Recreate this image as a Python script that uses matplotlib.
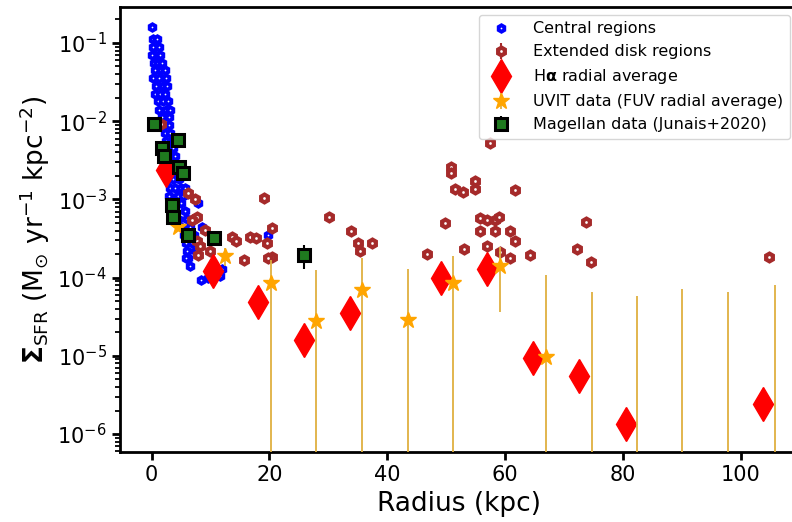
import matplotlib
matplotlib.use("Agg")
import matplotlib.pyplot as plt
import numpy as np

# ---------------- data ----------------
# Central regions (radius kpc, Sigma_SFR)
central_r = [0.1,
             0.2, 0.9,
             0.3, 1.2,
             0.5, 1.4, 0.1,
             0.4, 1.1, 1.8,
             0.6, 1.6, 2.2,
             0.3, 1.2, 2.4,
             0.8, 1.9, 2.6,
             0.5, 1.5, 2.3,
             1.0, 2.0, 2.8,
             1.3, 2.5, 3.2,
             1.8, 2.9,
             2.0, 3.0,
             2.2, 3.2,
             2.4, 3.5,
             2.6, 3.7,
             2.8, 3.5, 4.0,
             2.7, 3.8,
             3.0, 4.2,
             2.8, 3.6, 4.6,
             3.2, 4.0, 5.0, 5.6,
             3.0, 4.4, 5.3,
             3.5, 5.0, 7.8,
             4.0, 5.6,
             4.5, 6.0, 7.0,
             5.0, 6.5, 8.5,
             5.5, 7.2,
             5.8, 6.8,
             6.0, 7.5,
             6.2, 5.8,
             6.5,
             11.6, 10.2, 11.9,
             8.3, 9.5,
             19.7]
central_sfr = [1.58e-1,
               1.12e-1, 1.12e-1,
               8.9e-2, 8.9e-2,
               7.1e-2, 7.1e-2, 7.1e-2,
               5.6e-2, 5.6e-2, 5.6e-2,
               4.5e-2, 4.5e-2, 4.5e-2,
               3.55e-2, 3.55e-2, 3.55e-2,
               2.8e-2, 2.8e-2, 2.8e-2,
               2.2e-2, 2.2e-2, 2.2e-2,
               1.8e-2, 1.8e-2, 1.8e-2,
               1.4e-2, 1.4e-2, 1.4e-2,
               1.12e-2, 1.12e-2,
               8.9e-3, 8.9e-3,
               7.1e-3, 7.1e-3,
               5.6e-3, 5.6e-3,
               4.5e-3, 4.5e-3,
               3.55e-3, 3.55e-3, 3.55e-3,
               2.8e-3, 2.8e-3,
               2.2e-3, 2.2e-3,
               1.8e-3, 1.8e-3, 1.8e-3,
               1.4e-3, 1.4e-3, 1.4e-3, 1.4e-3,
               1.12e-3, 1.12e-3, 1.12e-3,
               8.9e-4, 8.9e-4, 8.9e-4,
               7.1e-4, 7.1e-4,
               5.6e-4, 5.6e-4, 5.6e-4,
               4.5e-4, 4.5e-4, 4.5e-4,
               3.5e-4, 3.5e-4,
               2.8e-4, 2.8e-4,
               2.2e-4, 2.2e-4,
               1.8e-4, 1.8e-4,
               1.4e-4,
               1.05e-4, 1.1e-4, 1.3e-4,
               9.3e-5, 9.8e-5,
               3.5e-4]

# Extended disk regions
ext_r = [1.6, 6.2, 7.4, 7.7, 6.8, 9.1, 7.7, 8.2, 9.9, 7.9,
         13.6, 14.4, 16.7, 17.8, 15.6, 19.1, 20.4, 19.5, 20.4, 19.8,
         30.1, 33.9, 35.1, 35.4, 37.4, 46.7, 49.8, 50.8, 50.8, 51.5,
         52.8, 54.9, 54.9, 53.0, 55.8, 56.9, 58.3, 55.8, 58.3, 56.9,
         61.7, 58.9, 60.8, 61.7, 59.2, 60.8, 64.2, 73.8, 72.2, 74.5,
         104.8, 57.5]
ext_sfr = [9.3e-3, 1.2e-3, 1.02e-3, 6.0e-4, 5.5e-4, 4.1e-4, 2.9e-4, 2.5e-4, 2.2e-4, 1.95e-4,
           3.3e-4, 2.9e-4, 3.3e-4, 3.2e-4, 1.7e-4, 1.05e-3, 4.3e-4, 2.75e-4, 1.85e-4, 1.8e-4,
           6.0e-4, 4.0e-4, 2.75e-4, 2.2e-4, 2.75e-4, 2.0e-4, 5.0e-4, 2.6e-3, 2.2e-3, 1.35e-3,
           1.23e-3, 1.74e-3, 1.35e-3, 2.3e-4, 5.75e-4, 5.5e-4, 5.5e-4, 4.0e-4, 3.9e-4, 2.5e-4,
           1.3e-3, 6.0e-4, 4.0e-4, 2.9e-4, 2.1e-4, 1.8e-4, 1.95e-4, 5.1e-4, 2.3e-4, 1.6e-4,
           1.85e-4, 5.2e-3]
ext_err = [0.0] * len(ext_r)

# H-alpha radial average
ha_r = [2.4, 10.5, 18.1, 25.9, 33.7, 49.1, 56.9, 64.7, 72.6, 80.5, 103.8]
ha_sfr = [2.4e-3, 1.2e-4, 4.9e-5, 1.6e-5, 3.5e-5, 9.8e-5, 1.3e-4, 9.3e-6, 5.5e-6, 1.35e-6, 2.4e-6]

# UVIT FUV radial average (value, symmetric error)
uvit_r = [4.5, 12.5, 20.2, 27.9, 35.7, 43.5, 51.2, 59.2, 67.0, 74.7, 82.4, 90.1, 97.9, 105.8]
uvit_sfr = [4.5e-4, 1.9e-4, 8.5e-5, 2.75e-5, 6.9e-5, 2.9e-5, 8.5e-5, 1.4e-4, 9.8e-6,
            1.0e-7, 1.0e-7, 1.0e-7, 1.0e-7, 1.0e-7]
uvit_err = [0.3e-4, 0.5e-4, 8.5e-5, 9.85e-5, 1.11e-4, 1.01e-4, 1.05e-4, 1.04e-4, 9.7e-5,
            6.6e-5, 5.8e-5, 7.1e-5, 6.5e-5, 8.0e-5]

# Magellan data (Junais+2020)
mag_r = [0.46, 4.5, 1.7, 2.1, 4.7, 5.3, 3.4, 3.7, 6.2, 10.6, 25.9]
mag_sfr = [9.3e-3, 5.8e-3, 4.5e-3, 3.6e-3, 2.6e-3, 2.2e-3, 8.5e-4, 6.0e-4, 3.5e-4, 3.2e-4, 1.95e-4]
mag_err = [0, 0, 0, 0, 0, 0, 0, 0, 0, 0, 6.5e-5]

x_ticks = [0, 20, 40, 60, 80, 100]

# ---------------- plot ----------------
fig = plt.figure(figsize=(7.92, 5.22), dpi=100)
ax = fig.add_axes([0.1515, 0.1341, 0.856, 0.8525])

h1, = ax.plot(central_r, central_sfr, linestyle='none', marker='h', ms=4.6, mfc='white',
              mec='blue', mew=2.8, label='Central regions', zorder=2)
h2 = ax.errorbar(ext_r, ext_sfr, yerr=ext_err, fmt='h', ms=5.6, mfc='white', mec='#a52a2a',
                 mew=3.0, ecolor='#a52a2a', elinewidth=1.5, label='Extended disk regions', zorder=3)
h3, = ax.plot(ha_r, ha_sfr, linestyle='none', marker='d', ms=17, color='red',
              label=r'H$\mathbf{\alpha}$ radial average', zorder=4)
h4 = ax.errorbar(uvit_r, uvit_sfr, yerr=uvit_err, fmt='*', ms=12, color='orange',
                 ecolor='#DFB040', elinewidth=1.3, label='UVIT data (FUV radial average)', zorder=5)
h5 = ax.errorbar(mag_r, mag_sfr, yerr=mag_err, fmt='s', ms=8, mfc='#1f7a1f', mec='black',
                 mew=2.2, ecolor='black', elinewidth=1.5, label='Magellan data (Junais+2020)', zorder=6)

ax.set_yscale('log')
ax.set_xlim(-5.37, 109.7)
ax.set_ylim(5.9e-7, 0.288)
ax.set_xticks(x_ticks)
ax.tick_params(axis='both', which='major', labelsize=15, width=2, length=6)
ax.tick_params(axis='y', which='minor', width=1.3, length=3.5)
for s in ax.spines.values():
    s.set_linewidth(2)

ax.set_xlabel('Radius (kpc)', fontsize=19)
ax.set_ylabel(r'$\mathbf{\Sigma}_{\rm SFR}$ (M$_{\odot}$ yr$^{-1}$ kpc$^{-2}$)', fontsize=19)

ax.legend(handles=[h1, h2, h3, h4, h5], loc='upper right', fontsize=11.5,
          labelspacing=0.5, handletextpad=1.0)

fig.savefig('out.png', dpi=100)
